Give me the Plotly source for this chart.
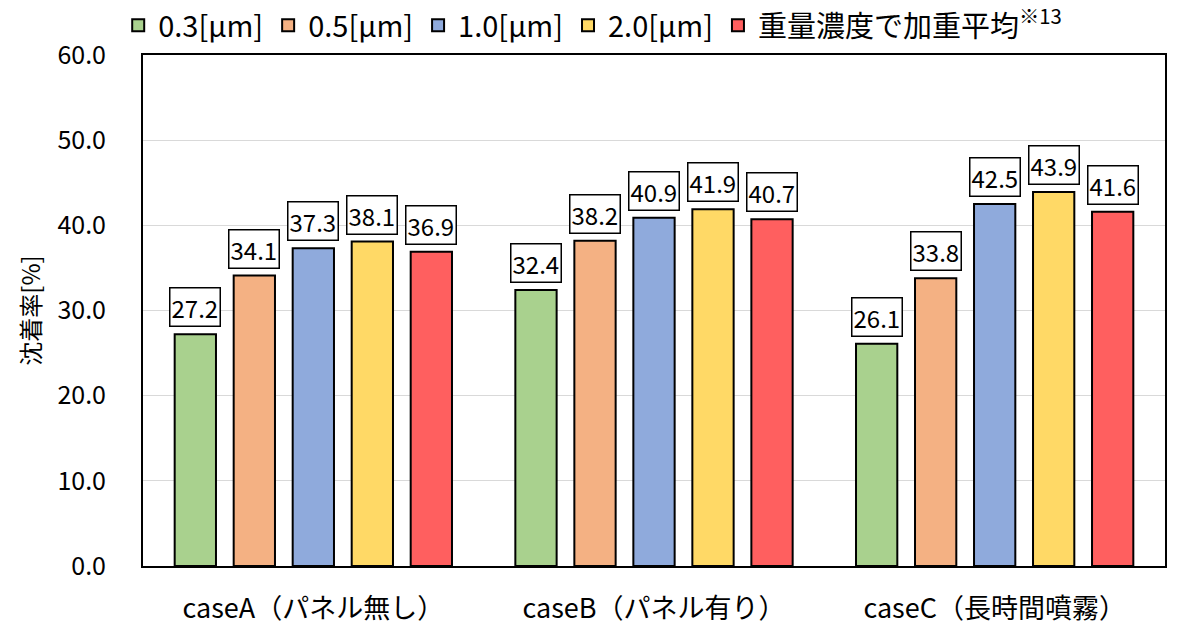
import plotly.graph_objects as go

categories = ["caseA（パネル無し）", "caseB（パネル有り）", "caseC（長時間噴霧）"]
series_names = ["0.3[μm]", "0.5[μm]", "1.0[μm]", "2.0[μm]", "重量濃度で加重平均<sup>※13</sup>"]
values_03 = [27.2, 32.4, 26.1]
values_05 = [34.1, 38.2, 33.8]
values_10 = [37.3, 40.9, 42.5]
values_20 = [38.1, 41.9, 43.9]
values_avg = [36.9, 40.7, 41.6]
colors = ["#a9d18e", "#f4b183", "#8faadc", "#ffd966", "#ff5f5f"]

all_values = [values_03, values_05, values_10, values_20, values_avg]

FONT = "Noto Sans CJK JP"
BARGAP = 0.134
n = len(all_values)

fig = go.Figure()
for name, vals, col in zip(series_names, all_values, colors):
    fig.add_trace(go.Bar(
        x=categories, y=vals, name=name,
        marker=dict(color=col, line=dict(color="black", width=2)),
    ))

# value boxes above each bar
slot = (1 - BARGAP) / n
annotations = []
for i, vals in enumerate(all_values):
    for j, v in enumerate(vals):
        annotations.append(dict(
            x=j + (i - (n - 1) / 2) * slot, y=v, xref="x", yref="y",
            text=f"{v:.1f}", showarrow=False, yanchor="bottom", yshift=7,
            font=dict(family=FONT, size=24, color="black"),
            bgcolor="white", bordercolor="black", borderwidth=1.5, borderpad=1,
        ))

fig.update_layout(
    width=1182, height=627,
    margin=dict(l=143, r=17, t=55, b=61),
    paper_bgcolor="white", plot_bgcolor="white",
    barmode="group", bargap=BARGAP, bargroupgap=0.3,
    font=dict(family=FONT, size=24, color="black"),
    legend=dict(orientation="h", x=0.1, xanchor="left", y=1.0, yanchor="top",
                xref="container", yref="container",
                font=dict(family=FONT, size=29), bgcolor="rgba(0,0,0,0)",
                itemwidth=30, tracegroupgap=0),
    annotations=annotations,
    showlegend=True,
)
fig.update_xaxes(
    type="category", showline=True, linecolor="black", linewidth=2, mirror=True,
    ticks="", tickfont=dict(family=FONT, size=27), ticklabelstandoff=18,
    automargin=False,
)
fig.update_yaxes(
    range=[0, 60], dtick=10, tickformat=".1f",
    showline=True, linecolor="black", linewidth=2, mirror=True,
    showgrid=True, gridcolor="#d9d9d9", gridwidth=1, zeroline=False,
    ticks="", tickfont=dict(family=FONT, size=25), ticklabelstandoff=30,
    automargin=False,
    title=dict(text="沈着率[%]", font=dict(family=FONT, size=24), standoff=10),
)

fig.write_html("out.html")
